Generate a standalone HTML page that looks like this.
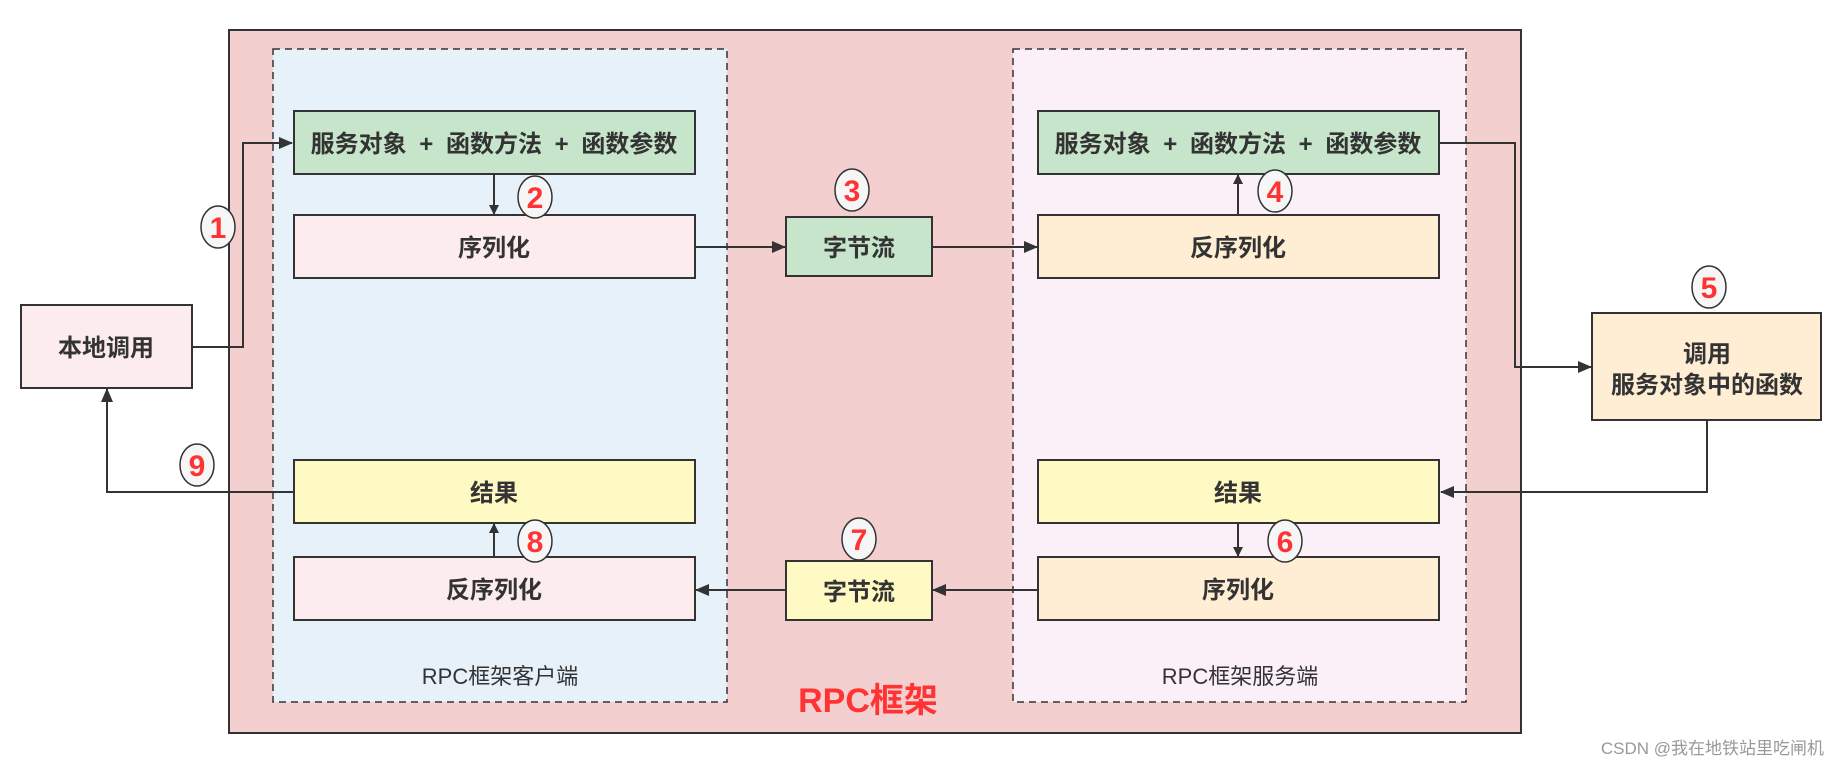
<!DOCTYPE html>
<html><head><meta charset="utf-8"><style>
html,body{margin:0;padding:0;background:#fff;}
svg{display:block}
text{font-family:"Liberation Sans","Noto Sans CJK SC",sans-serif;font-weight:bold;fill:#333;}
.c text{fill:#f33;font-size:30px;}
</style></head><body>
<svg width="1838" height="766" viewBox="0 0 1838 766" xmlns="http://www.w3.org/2000/svg">
<defs><marker id="a" markerWidth="10" markerHeight="10" refX="9" refY="5" orient="auto" markerUnits="userSpaceOnUse"><path d="M0,0 L10,5 L0,10 z" fill="#333"/></marker>
<marker id="b" markerWidth="14" markerHeight="12" refX="13" refY="6" orient="auto" markerUnits="userSpaceOnUse"><path d="M0,0 L14,6 L0,12 z" fill="#333"/></marker></defs>
<rect x="229" y="30" width="1292" height="703" fill="#f4cfd0" stroke="#333" stroke-width="2"/>
<rect x="273" y="49" width="454" height="653" fill="#e7f1fa" stroke="#333" stroke-width="1.5" stroke-dasharray="7,5"/>
<rect x="1013" y="49" width="453" height="653" fill="#fcf0f8" stroke="#333" stroke-width="1.5" stroke-dasharray="7,5"/>
<g stroke="#333" stroke-width="2">
<rect x="294" y="111" width="401" height="63" fill="#c6e5ca"/>
<rect x="294" y="215" width="401" height="63" fill="#fcecee"/>
<rect x="294" y="460" width="401" height="63" fill="#fff9c3"/>
<rect x="294" y="557" width="401" height="63" fill="#fcecee"/>
<rect x="1038" y="111" width="401" height="63" fill="#c6e5ca"/>
<rect x="1038" y="215" width="401" height="63" fill="#ffedd4"/>
<rect x="1038" y="460" width="401" height="63" fill="#fff9c3"/>
<rect x="1038" y="557" width="401" height="63" fill="#ffedd4"/>
<rect x="786" y="217" width="146" height="59" fill="#c6e5ca"/>
<rect x="786" y="561" width="146" height="59" fill="#fff9c3"/>
<rect x="21" y="305" width="171" height="83" fill="#fcecee"/>
<rect x="1592" y="313" width="229" height="107" fill="#ffedd4"/>
</g>
<g stroke="#333" stroke-width="2" fill="none">
<polyline points="192,347 243,347 243,143 292,143" marker-end="url(#b)"/>
<line x1="494" y1="174" x2="494" y2="214" marker-end="url(#a)"/>
<line x1="695" y1="247" x2="785" y2="247" marker-end="url(#b)"/>
<line x1="932" y1="247" x2="1037" y2="247" marker-end="url(#b)"/>
<line x1="1238" y1="215" x2="1238" y2="175" marker-end="url(#a)"/>
<polyline points="1439,143 1515,143 1515,367 1591,367" marker-end="url(#b)"/>
<polyline points="1707,420 1707,492 1441,492" marker-end="url(#b)"/>
<line x1="1238" y1="523" x2="1238" y2="556" marker-end="url(#a)"/>
<line x1="1038" y1="590" x2="933" y2="590" marker-end="url(#b)"/>
<line x1="786" y1="590" x2="696" y2="590" marker-end="url(#b)"/>
<line x1="494" y1="557" x2="494" y2="524" marker-end="url(#a)"/>
<polyline points="294,492 107,492 107,389" marker-end="url(#b)"/>
</g>
<g font-size="24" text-anchor="middle">
<text x="494" y="152" style="word-spacing:6px">服务对象 + 函数方法 + 函数参数</text>
<text x="494" y="256">序列化</text>
<text x="494" y="501">结果</text>
<text x="494" y="598">反序列化</text>
<text x="1238" y="152" style="word-spacing:6px">服务对象 + 函数方法 + 函数参数</text>
<text x="1238" y="256">反序列化</text>
<text x="1238" y="501">结果</text>
<text x="1238" y="598">序列化</text>
<text x="859" y="256">字节流</text>
<text x="859" y="600">字节流</text>
<text x="106" y="356">本地调用</text>
<text x="1707" y="362">调用</text>
<text x="1707" y="393">服务对象中的函数</text>
</g>
<g font-size="22" text-anchor="middle">
<text x="500" y="684" style="font-weight:normal">RPC框架客户端</text>
<text x="1240" y="684" style="font-weight:normal">RPC框架服务端</text>
</g>
<text x="868" y="712" text-anchor="middle" font-size="34" style="fill:#f33">RPC框架</text>
<text x="1824" y="754" text-anchor="end" font-size="17" style="fill:#999;font-weight:normal">CSDN @我在地铁站里吃闸机</text>
<g class="c" stroke="none">
<g transform="translate(218,227)"><ellipse rx="17" ry="21" fill="#f6f6f6" stroke="#333" stroke-width="1.5"/><text y="11" text-anchor="middle">1</text></g>
<g transform="translate(535,197)"><ellipse rx="17" ry="21" fill="#f6f6f6" stroke="#333" stroke-width="1.5"/><text y="11" text-anchor="middle">2</text></g>
<g transform="translate(852,190)"><ellipse rx="17" ry="21" fill="#f6f6f6" stroke="#333" stroke-width="1.5"/><text y="11" text-anchor="middle">3</text></g>
<g transform="translate(1275,191)"><ellipse rx="17" ry="21" fill="#f6f6f6" stroke="#333" stroke-width="1.5"/><text y="11" text-anchor="middle">4</text></g>
<g transform="translate(1709,287)"><ellipse rx="17" ry="21" fill="#f6f6f6" stroke="#333" stroke-width="1.5"/><text y="11" text-anchor="middle">5</text></g>
<g transform="translate(1285,541)"><ellipse rx="17" ry="21" fill="#f6f6f6" stroke="#333" stroke-width="1.5"/><text y="11" text-anchor="middle">6</text></g>
<g transform="translate(859,539)"><ellipse rx="17" ry="21" fill="#f6f6f6" stroke="#333" stroke-width="1.5"/><text y="11" text-anchor="middle">7</text></g>
<g transform="translate(535,541)"><ellipse rx="17" ry="21" fill="#f6f6f6" stroke="#333" stroke-width="1.5"/><text y="11" text-anchor="middle">8</text></g>
<g transform="translate(197,465)"><ellipse rx="17" ry="21" fill="#f6f6f6" stroke="#333" stroke-width="1.5"/><text y="11" text-anchor="middle">9</text></g>
</g>
</svg>
</body></html>
